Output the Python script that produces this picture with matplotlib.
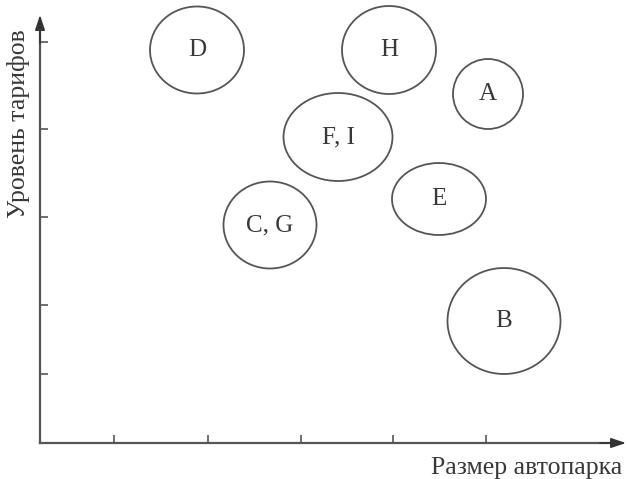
import matplotlib.pyplot as plt
from matplotlib.patches import Ellipse

plt.rcParams['font.family'] = ['Liberation Serif', 'DejaVu Serif']

# companies: position on the map (fleet size, tariff level) and bubble size
labels = ['D', 'H', 'A', 'F, I', 'E', 'C, G', 'B']
fleet = [157, 349, 448, 298, 399, 230, 464]
tariff = [393, 393, 349, 306, 244, 218, 122]
widths = [94, 94, 70, 109, 94, 93, 113]
heights = [87, 88, 70, 88, 72, 87, 106]

xticks = [74, 168, 261, 353, 446]
yticks = [69, 138, 226, 314, 401]

col = '#555555'
txt = '#383838'

fig = plt.figure(figsize=(6.28, 4.79), dpi=100)
ax = fig.add_axes([40 / 628, 36 / 479, 588 / 628, 443 / 479])
ax.set_xlim(0, 588)
ax.set_ylim(0, 443)
for s in ax.spines.values():
    s.set_visible(False)

ax.set_xticks(xticks)
ax.set_yticks(yticks)
ax.set_xticklabels([])
ax.set_yticklabels([])
ax.tick_params(direction='in', length=6, width=1.2, color=col)

# axes with arrows
arrow = dict(arrowstyle='-|>,head_length=0.9,head_width=0.3', color='#333333',
             lw=1.2, shrinkA=0, shrinkB=0)
ax.annotate('', xy=(0, 428), xytext=(0, 400), arrowprops=arrow, clip_on=False)
ax.annotate('', xy=(586, 0), xytext=(560, 0), arrowprops=arrow, clip_on=False)
ax.plot([0, 0], [0, 420], color=col, lw=1.6, clip_on=False)
ax.plot([0, 575], [0, 0], color=col, lw=1.6, clip_on=False)

for lab, x, y, w, h in zip(labels, fleet, tariff, widths, heights):
    ax.add_patch(Ellipse((x, y), w, h, fill=False, edgecolor=col, lw=1.3, clip_on=False))
    ax.text(x, y, lab, ha='center', va='center', fontsize=18, color=txt)

fig.text(19 / 628, 1 - 124 / 479, 'Уровень тарифов', rotation=90, ha='center',
         va='center', fontsize=18.5, color=txt)
fig.text(622 / 628, 5 / 479, 'Размер автопарка', ha='right', va='baseline',
         fontsize=18.5, color=txt)

fig.savefig('out.png', dpi=100)
